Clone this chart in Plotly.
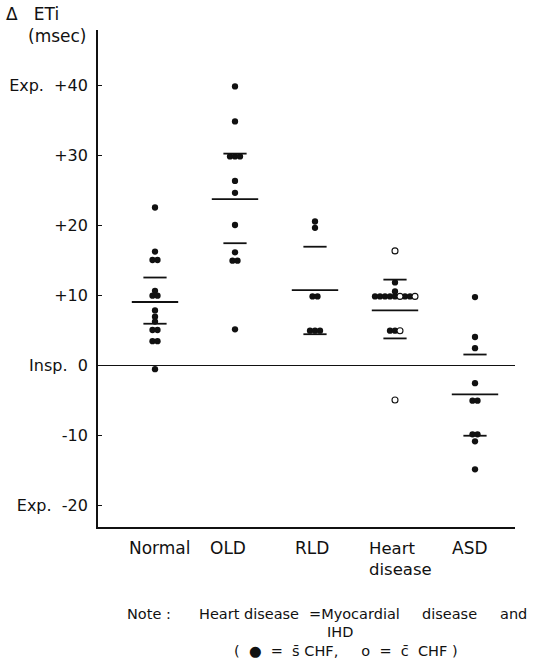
import plotly.graph_objects as go

# ---------------- data ----------------
categories = ["Normal", "OLD", "RLD", "Heart disease", "ASD"]

normal_vals = [22.5, 16.2, 15.0, 15.0, 10.6, 9.9, 9.9, 7.8, 6.9, 6.2, 5.0, 5.0, 3.4, 3.4, -0.6]
normal_fill = [True] * len(normal_vals)

old_vals = [39.8, 34.8, 29.8, 29.8, 29.8, 26.3, 24.6, 20.0, 16.1, 14.9, 14.9, 5.1]
old_fill = [True] * len(old_vals)

rld_vals = [20.5, 19.6, 9.8, 9.8, 4.9, 4.9, 4.9]
rld_fill = [True] * len(rld_vals)

hd_vals = [16.3, 11.8, 10.5,
           9.8, 9.8, 9.8, 9.8, 9.8, 9.8, 9.8, 9.8, 9.8,
           4.9, 4.9, 4.9, -5.0]
hd_fill = [False, True, True,
           True, True, True, True, True, False, True, True, False,
           True, True, False, False]

asd_vals = [9.7, 4.0, 2.4, -2.6, -5.1, -5.1, -9.9, -9.9, -10.9, -14.9]
asd_fill = [True] * len(asd_vals)

group_vals = [normal_vals, old_vals, rld_vals, hd_vals, asd_vals]
group_fill = [normal_fill, old_fill, rld_fill, hd_fill, asd_fill]

means = [9.0, 23.7, 10.7, 7.8, -4.2]
sd_upper = [12.5, 30.2, 16.9, 12.2, 1.5]
sd_lower = [5.9, 17.4, 4.4, 3.8, -10.1]

tick_vals = [40, 30, 20, 10, 0, -10, -20]
tick_text = ["Exp.\u00a0\u00a0+40", "+30", "+20", "+10", "Insp.\u00a0\u00a00", "-10",
             "Exp.\u00a0\u00a0-20"]

# ---------------- style ----------------
FONT = "DejaVu Sans"
INK = "#111111"
DOT_STEP = 0.0625      # horizontal spacing of tied dots (x units)
MEAN_HALF = 0.29
SD_HALF = 0.145

fig = go.Figure()

for gi, (vals, fills) in enumerate(zip(group_vals, group_fill)):
    counts = {}
    for v in vals:
        counts[v] = counts.get(v, 0) + 1
    seen = {}
    xs_f, ys_f, xs_o, ys_o = [], [], [], []
    for v, f in zip(vals, fills):
        k = seen.get(v, 0)
        seen[v] = k + 1
        off = (k - (counts[v] - 1) / 2) * DOT_STEP
        if f:
            xs_f.append(gi + off); ys_f.append(v)
        else:
            xs_o.append(gi + off); ys_o.append(v)
    fig.add_trace(go.Scatter(x=xs_f, y=ys_f, mode="markers",
                             marker=dict(size=6.3, color=INK, line=dict(width=0)),
                             showlegend=False, hoverinfo="skip"))
    if xs_o:
        fig.add_trace(go.Scatter(x=xs_o, y=ys_o, mode="markers",
                                 marker=dict(size=6, color="white",
                                             line=dict(width=1.1, color=INK)),
                                 showlegend=False, hoverinfo="skip"))
    fig.add_trace(go.Scatter(x=[gi - MEAN_HALF, gi + MEAN_HALF], y=[means[gi]] * 2,
                             mode="lines", line=dict(color=INK, width=1.8),
                             showlegend=False, hoverinfo="skip"))
    for s in (sd_upper[gi], sd_lower[gi]):
        fig.add_trace(go.Scatter(x=[gi - SD_HALF, gi + SD_HALF], y=[s, s],
                                 mode="lines", line=dict(color=INK, width=1.8),
                                 showlegend=False, hoverinfo="skip"))

# ---------------- annotations ----------------
def px_x(px):
    return (px - 98) / 417


def px_y(py):
    return (527 - py) / 497


ann = []
ann.append(dict(text="\u0394\u00a0\u00a0\u00a0ETi", xref="paper", yref="paper", x=px_x(4), y=px_y(14),
                xanchor="left", yanchor="middle", showarrow=False,
                font=dict(family=FONT, size=17, color=INK)))
ann.append(dict(text="(msec)", xref="paper", yref="paper", x=px_x(26), y=px_y(36),
                xanchor="left", yanchor="middle", showarrow=False,
                font=dict(family=FONT, size=17, color=INK)))

label_shift = [5, -7, -3, None, -5]
for i, c in enumerate(categories):
    if c == "Heart disease":
        ann.append(dict(text=c.replace(" ", "<br>"), xref="x", yref="paper", x=i,
                        y=px_y(537), xanchor="left", yanchor="top", align="left",
                        xshift=-28, showarrow=False,
                        font=dict(family=FONT, size=16.5, color=INK)))
    else:
        ann.append(dict(text=c, xref="x", yref="paper", x=i, y=px_y(548),
                        xanchor="center", yanchor="middle", xshift=label_shift[i],
                        showarrow=False, font=dict(family=FONT, size=17, color=INK)))

note_font = dict(family=FONT, size=14.5, color=INK)
note_pieces = [("Note\u00a0:", 125), ("Heart disease", 197), ("=Myocardial", 307),
               ("disease", 420), ("and", 498)]
for txt, xl in note_pieces:
    ann.append(dict(text=txt, xref="paper", yref="paper", x=px_x(xl), y=px_y(614),
                    xanchor="left", yanchor="middle", showarrow=False, font=note_font))
ann.append(dict(text="IHD", xref="paper", yref="paper", x=px_x(340), y=px_y(632),
                xanchor="center", yanchor="middle", showarrow=False, font=note_font))
ann.append(dict(text="(\u00a0\u00a0\u25cf\u00a0\u00a0=\u00a0\u00a0s\u0304\u00a0CHF,\u00a0\u00a0\u00a0\u00a0\u00a0o\u00a0\u00a0=\u00a0\u00a0c\u0304\u00a0\u00a0CHF\u00a0)",
                xref="paper", yref="paper", x=px_x(346), y=px_y(651),
                xanchor="center", yanchor="middle", showarrow=False, font=note_font))

fig.update_layout(
    width=533, height=670,
    margin=dict(l=98, r=18, t=30, b=143, autoexpand=False),
    paper_bgcolor="white", plot_bgcolor="white",
    font=dict(family=FONT, size=16, color=INK),
    annotations=ann,
    xaxis=dict(range=[-0.7125, 4.5], showgrid=False, zeroline=False,
               showline=True, linecolor=INK, linewidth=1.6,
               showticklabels=False, ticks="", automargin=False),
    yaxis=dict(range=[-23.14, 47.86], showgrid=False, automargin=False,
               zeroline=True, zerolinecolor=INK, zerolinewidth=1.4,
               showline=True, linecolor=INK, linewidth=1.8,
               tickmode="array", tickvals=tick_vals, ticktext=tick_text,
               ticks="inside", ticklen=4, tickwidth=1.4, tickcolor=INK,
               ticklabelstandoff=5,
               tickfont=dict(family=FONT, size=16, color=INK)),
)

fig.write_html("out.html")
